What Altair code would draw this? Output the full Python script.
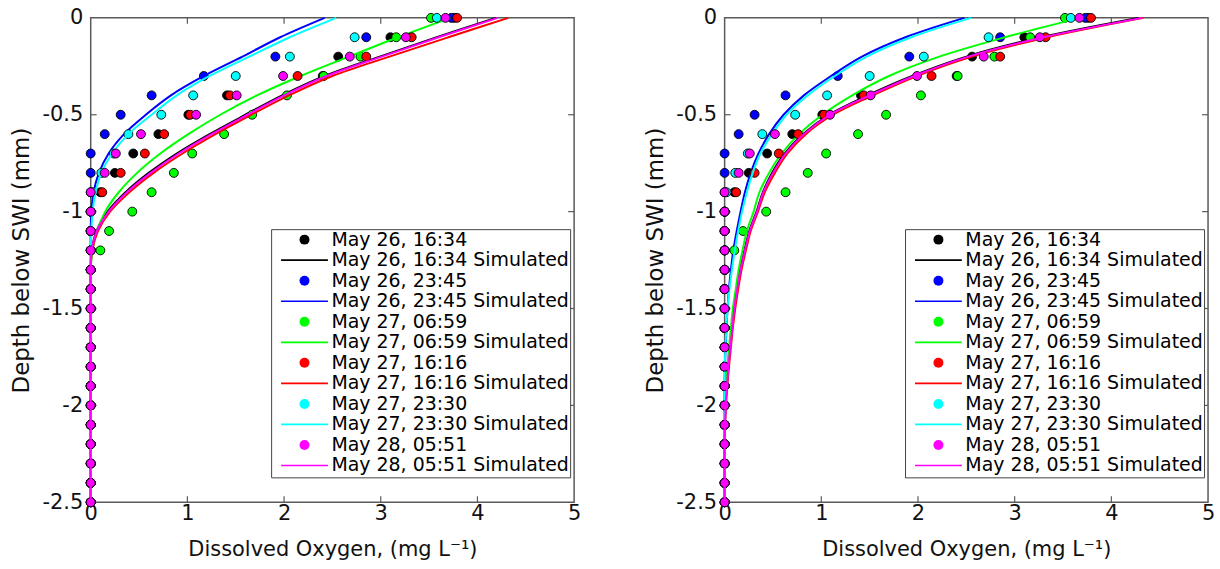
import altair as alt
import pandas as pd

# ---------------- data ----------------
DEPTH = [0.0, -0.1, -0.2, -0.3, -0.4, -0.5, -0.6, -0.7, -0.8, -0.9, -1.0, -1.1, -1.2,
         -1.3, -1.4, -1.5, -1.6, -1.7, -1.8, -1.9, -2.0, -2.1, -2.2, -2.3, -2.4, -2.5]

TIMES = ["May 26, 16:34", "May 26, 23:45", "May 27, 06:59",
         "May 27, 16:16", "May 27, 23:30", "May 28, 05:51"]
COLORS = ["#000000", "#0000ff", "#00ff00", "#ff0000", "#00ffff", "#ff00ff"]

# measured dissolved oxygen (same in both panels)
OBS_BLACK = [3.76, 3.10, 2.56, 2.40, 1.41, 1.01, 0.70, 0.44, 0.25, 0.10, 0.0, 0.0, 0.0,
             0.0, 0.0, 0.0, 0.0, 0.0, 0.0, 0.0, 0.0, 0.0, 0.0, 0.0, 0.0, 0.0]
OBS_BLUE = [3.73, 2.85, 1.91, 1.17, 0.63, 0.31, 0.145, 0.0, 0.0, 0.0, 0.0, 0.0, 0.0,
            0.0, 0.0, 0.0, 0.0, 0.0, 0.0, 0.0, 0.0, 0.0, 0.0, 0.0, 0.0, 0.0]
OBS_GREEN = [3.52, 3.16, 2.79, 2.41, 2.03, 1.67, 1.38, 1.05, 0.86, 0.63, 0.43, 0.19, 0.10,
             0.0, 0.0, 0.0, 0.0, 0.0, 0.0, 0.0, 0.0, 0.0, 0.0, 0.0, 0.0, 0.0]
OBS_RED = [3.79, 3.32, 2.85, 2.14, 1.44, 1.03, 0.76, 0.56, 0.31, 0.12, 0.0, 0.0, 0.0,
           0.0, 0.0, 0.0, 0.0, 0.0, 0.0, 0.0, 0.0, 0.0, 0.0, 0.0, 0.0, 0.0]
OBS_CYAN = [3.58, 2.73, 2.06, 1.50, 1.06, 0.73, 0.39, 0.24, 0.11, 0.02, 0.0, 0.0, 0.0,
            0.0, 0.0, 0.0, 0.0, 0.0, 0.0, 0.0, 0.0, 0.0, 0.0, 0.0, 0.0, 0.0]
OBS_MAGENTA = [3.67, 3.26, 2.68, 1.99, 1.51, 1.09, 0.52, 0.26, 0.145, 0.0, 0.0, 0.0, 0.0,
               0.0, 0.0, 0.0, 0.0, 0.0, 0.0, 0.0, 0.0, 0.0, 0.0, 0.0, 0.0, 0.0]

# simulated profiles, left panel
SIM_L_BLACK = [4.19, 3.58, 2.99, 2.42, 1.98, 1.60, 1.23, 0.89, 0.60, 0.36, 0.175, 0.06, 0.01,
               0.0, 0.0, 0.0, 0.0, 0.0, 0.0, 0.0, 0.0, 0.0, 0.0, 0.0, 0.0, 0.0]
SIM_L_BLUE = [2.42, 1.96, 1.57, 1.17, 0.83, 0.57, 0.345, 0.185, 0.085, 0.03, 0.007, 0.0, 0.0,
              0.0, 0.0, 0.0, 0.0, 0.0, 0.0, 0.0, 0.0, 0.0, 0.0, 0.0, 0.0, 0.0]
SIM_L_GREEN = [3.72, 3.18, 2.67, 2.17, 1.72, 1.34, 1.01, 0.72, 0.48, 0.29, 0.15, 0.065, 0.02,
               0.0, 0.0, 0.0, 0.0, 0.0, 0.0, 0.0, 0.0, 0.0, 0.0, 0.0, 0.0, 0.0]
SIM_L_RED = [4.32, 3.70, 3.09, 2.50, 2.05, 1.66, 1.29, 0.95, 0.65, 0.40, 0.20, 0.075, 0.015,
             0.0, 0.0, 0.0, 0.0, 0.0, 0.0, 0.0, 0.0, 0.0, 0.0, 0.0, 0.0, 0.0]
SIM_L_CYAN = [2.54, 2.06, 1.64, 1.23, 0.89, 0.63, 0.39, 0.22, 0.11, 0.05, 0.02, 0.007, 0.0,
              0.0, 0.0, 0.0, 0.0, 0.0, 0.0, 0.0, 0.0, 0.0, 0.0, 0.0, 0.0, 0.0]
SIM_L_MAGENTA = [4.21, 3.60, 3.01, 2.44, 2.00, 1.62, 1.25, 0.91, 0.62, 0.375, 0.186, 0.065, 0.01,
                 0.0, 0.0, 0.0, 0.0, 0.0, 0.0, 0.0, 0.0, 0.0, 0.0, 0.0, 0.0, 0.0]

# simulated profiles, right panel
SIM_R_BLACK = [4.28, 3.27, 2.50, 1.94, 1.48, 1.08, 0.81, 0.62, 0.49, 0.395, 0.33, 0.255, 0.205,
               0.16, 0.125, 0.097, 0.077, 0.057, 0.037, 0.022, 0.01, 0.003, 0.0, 0.0, 0.0, 0.0]
SIM_R_BLUE = [2.48, 1.87, 1.42, 1.10, 0.82, 0.61, 0.46, 0.35, 0.27, 0.21, 0.165, 0.125, 0.09,
              0.065, 0.045, 0.03, 0.02, 0.01, 0.004, 0.0, 0.0, 0.0, 0.0, 0.0, 0.0, 0.0]
SIM_R_GREEN = [3.68, 2.90, 2.22, 1.70, 1.32, 1.01, 0.77, 0.59, 0.46, 0.36, 0.30, 0.23, 0.185,
               0.145, 0.115, 0.085, 0.065, 0.045, 0.028, 0.014, 0.005, 0.0, 0.0, 0.0, 0.0, 0.0]
SIM_R_RED = [4.33, 3.34, 2.56, 1.99, 1.53, 1.12, 0.84, 0.65, 0.52, 0.415, 0.345, 0.27, 0.22,
             0.175, 0.14, 0.11, 0.085, 0.065, 0.045, 0.028, 0.014, 0.005, 0.0, 0.0, 0.0, 0.0]
SIM_R_CYAN = [2.55, 1.93, 1.47, 1.14, 0.86, 0.64, 0.49, 0.37, 0.29, 0.23, 0.18, 0.14, 0.105,
              0.075, 0.05, 0.03, 0.018, 0.008, 0.002, 0.0, 0.0, 0.0, 0.0, 0.0, 0.0, 0.0]
SIM_R_MAGENTA = [4.32, 3.30, 2.52, 1.96, 1.50, 1.09, 0.82, 0.63, 0.50, 0.40, 0.335, 0.26, 0.21,
                 0.165, 0.13, 0.10, 0.08, 0.06, 0.04, 0.025, 0.012, 0.004, 0.0, 0.0, 0.0, 0.0]

X_TICKS = [0, 1, 2, 3, 4, 5]
Y_TICKS = [-2.5, -2, -1.5, -1, -0.5, 0]

OBS = [OBS_BLACK, OBS_BLUE, OBS_GREEN, OBS_RED, OBS_CYAN, OBS_MAGENTA]
SIM_L = [SIM_L_BLACK, SIM_L_BLUE, SIM_L_GREEN, SIM_L_RED, SIM_L_CYAN, SIM_L_MAGENTA]
SIM_R = [SIM_R_BLACK, SIM_R_BLUE, SIM_R_GREEN, SIM_R_RED, SIM_R_CYAN, SIM_R_MAGENTA]

# ---------------- styling ----------------
W, H = 485, 486
FONT = "DejaVu Sans"
BOX = "#5a5a5a"
LINE_PATH = "M-4.7,-0.17H4.7V0.17H-4.7Z"

LEG_DOMAIN, LEG_FILL, LEG_SHAPE = [], [], []
for t, c in zip(TIMES, COLORS):
    LEG_DOMAIN += [t, t + " Simulated"]
    LEG_FILL += [c, c]
    LEG_SHAPE += ["circle", LINE_PATH]
SIM_LABELS = [t + " Simulated" for t in TIMES]


def frame(values, label):
    assert len(values) == len(DEPTH)
    return pd.DataFrame({"x": values, "depth": DEPTH, "label": label,
                         "j": list(range(len(DEPTH)))})


def panel(sims):
    legend = alt.Legend(
        title=None, orient="none", legendX=181, legendY=212, direction="vertical",
        fillColor="white", strokeColor="#444444", padding=1, rowPadding=0.6,
        labelFont=FONT, labelFontSize=19, labelColor="black", labelLimit=500,
        symbolSize=100, symbolStrokeWidth=0, symbolOpacity=1,
        symbolOffset=23, labelOffset=17.5,
    )
    xenc = alt.X("x:Q", scale=alt.Scale(domain=[0, 5], nice=False, zero=False),
                 axis=alt.Axis(values=X_TICKS, labelExpr="'' + datum.value",
                               labelFlush=False, labelPadding=0, titlePadding=15,
                               title="Dissolved Oxygen, (mg L⁻¹)"))
    yenc = alt.Y("depth:Q", scale=alt.Scale(domain=[-2.5, 0], nice=False, zero=False),
                 axis=alt.Axis(values=Y_TICKS, labelExpr="'' + datum.value",
                               labelFlush=False, labelPadding=8, titlePadding=8,
                               titleFontSize=23,
                               title="Depth below SWI (mm)"))
    fill = alt.Fill("label:N", scale=alt.Scale(domain=LEG_DOMAIN, range=LEG_FILL), legend=legend)
    shape = alt.Shape("label:N", scale=alt.Scale(domain=LEG_DOMAIN, range=LEG_SHAPE), legend=legend)
    stroke = alt.Stroke("label:N", scale=alt.Scale(domain=SIM_LABELS, range=COLORS), legend=None)

    layers = []
    for i in range(6):
        pts = alt.Chart(frame(OBS[i], TIMES[i])).mark_point(
            filled=True, size=80, stroke="black", strokeWidth=0.9, opacity=1
        ).encode(x=xenc, y=yenc, fill=fill, shape=shape)
        line = alt.Chart(frame(sims[i], SIM_LABELS[i])).mark_line(
            strokeWidth=2, interpolate="catmull-rom"
        ).encode(x=xenc, y=yenc, stroke=stroke, order=alt.Order("j:Q"))
        layers += [pts, line]

    xt = pd.DataFrame({"v": X_TICKS[1:-1]})
    yt = pd.DataFrame({"v": Y_TICKS[1:-1]})
    tick_style = dict(color=BOX, strokeWidth=1.2)
    ticks = [
        alt.Chart(xt).mark_rule(**tick_style).encode(x="v:Q", y=alt.value(0), y2=alt.value(6)),
        alt.Chart(xt).mark_rule(**tick_style).encode(x="v:Q", y=alt.value(H), y2=alt.value(H - 6)),
        alt.Chart(yt).mark_rule(**tick_style).encode(y="v:Q", x=alt.value(0), x2=alt.value(6)),
        alt.Chart(yt).mark_rule(**tick_style).encode(y="v:Q", x=alt.value(W), x2=alt.value(W - 6)),
    ]
    return alt.layer(*ticks, *layers).properties(width=W, height=H)


chart = (
    alt.hconcat(panel(SIM_L), panel(SIM_R), spacing=62)
    .resolve_scale(fill="independent", shape="independent", stroke="independent")
    .resolve_legend(fill="independent", shape="independent")
    .properties(padding={"left": 10, "top": 5, "right": 4, "bottom": 3})
    .configure_view(stroke=BOX, strokeWidth=1.5)
    .configure_axis(labelFont=FONT, labelFontSize=21, labelColor="#111111",
                    titleFont=FONT, titleFontSize=21, titleFontWeight="normal",
                    titleColor="#111111", ticks=False, tickSize=0, domain=False, grid=False)
)

chart.save("out.html", embed_options={"renderer": "svg", "actions": False})
